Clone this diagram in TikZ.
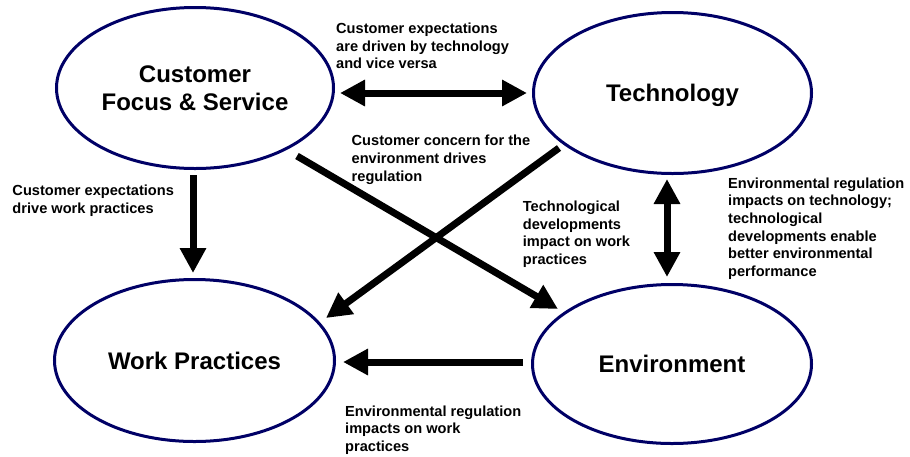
\documentclass[tikz,border=0pt]{standalone}
\usepackage{fontspec}
\setmainfont{Liberation Sans}
\usetikzlibrary{shapes.geometric,arrows.meta,calc}
\definecolor{ringblue}{RGB}{0,0,102}
\begin{document}
\begin{tikzpicture}[x=1pt,y=-1pt,
  topic/.style={ellipse, draw=ringblue, line width=3pt, inner sep=0pt,
    text depth=0pt, font=\fontsize{24}{28}\selectfont\bfseries, align=center},
  % notes are anchored at the baseline of their last line
  note/.style={anchor=base west, inner sep=0pt, align=left,
    font=\fontsize{14.6}{17.7}\selectfont\bfseries},
  link/.style={line width=7pt, -{Triangle[length=25pt,width=25pt]}},
  twoway/.style={line width=7pt,
    {Triangle[length=25pt,width=25pt]}-{Triangle[length=25pt,width=25pt]}},
]
\useasboundingbox (0,0) rectangle (910,456);

% the four topics
\node[topic, minimum width=277pt, minimum height=161pt] (cfs) at (195,88)
  {Customer\\Focus \& Service};
\node[topic, minimum width=278pt, minimum height=161pt] (tech) at (672.5,93)
  {Technology};
\node[topic, minimum width=280pt, minimum height=162pt] (work) at (194.5,360.5)
  {Work Practices};
\node[topic, minimum width=279pt, minimum height=159pt] (env) at (672,364)
  {Environment};

% influences between the topics
\draw[twoway] ($(cfs.east)+(5,5)$) -- ($(tech.west)+(-5,0)$);
\draw[link] ($(cfs.south)+(-2,5)$) -- ($(work.north)+(-1.5,-5)$);
\draw[twoway] ($(tech.south)+(-5.5,4)$) -- ($(env.north)+(-5,-6)$);
\draw[link] ($(env.west)+(-8,-2)$) -- ($(work.east)+(7,1.5)$);
\draw[link] ($(cfs.center)+(102,68)$) -- ($(env.center)+(-114,-55)$);
\draw[link] ($(tech.center)+(-113.5,55)$) -- ($(work.center)+(131.5,-42.5)$);

% explanations
\node[note] (t1) at (336,68.7)
  {Customer expectations\\are driven by technology\\and vice versa};
\node[note] (t2) at (351.5,181)
  {Customer concern for the\\environment drives\\regulation};
\node[note] (t3) at (12.3,213.3)
  {Customer expectations\\drive work practices};
\node[note] (t4) at (522.7,264.6)
  {Technological\\developments\\impact on work\\practices};
\node[note] (t5) at (728,276.5)
  {Environmental regulation\\impacts on technology;\\technological\\developments enable\\better environmental\\performance};
\node[note] (t6) at (345,451.5)
  {Environmental regulation\\impacts on work\\practices};
\end{tikzpicture}
\end{document}
